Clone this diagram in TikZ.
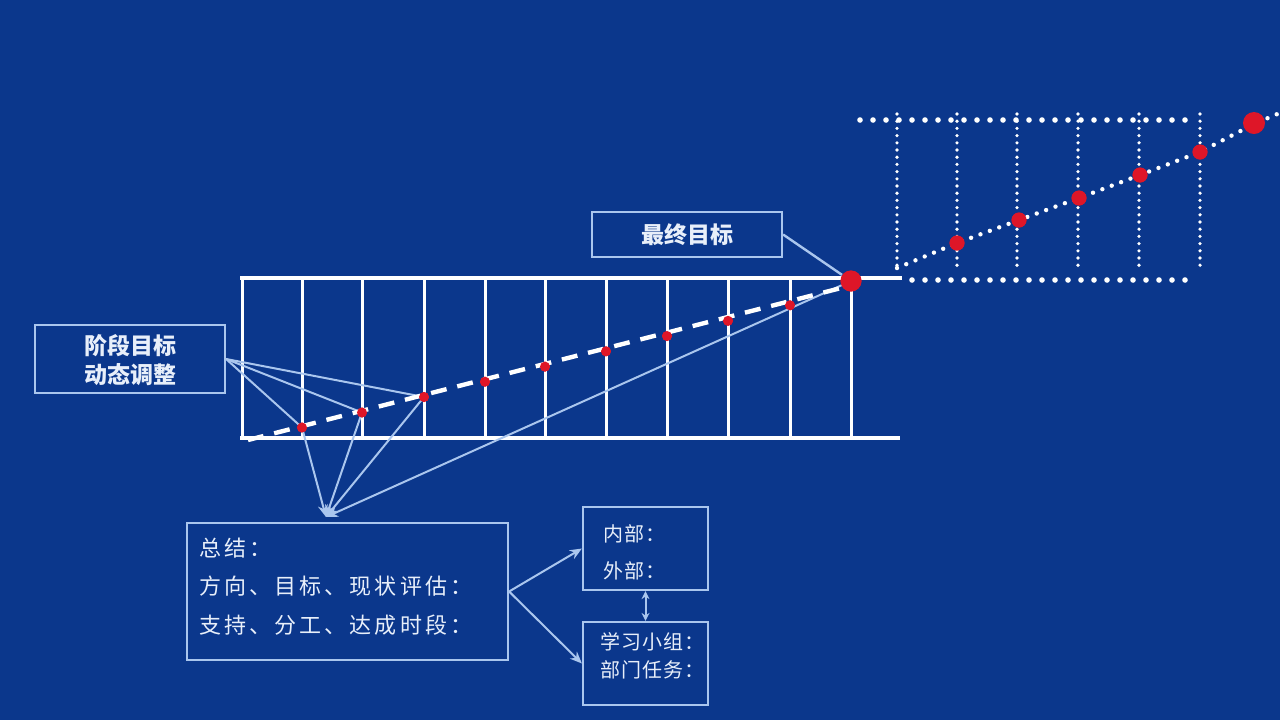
\documentclass[tikz,border=0pt]{standalone}
\usepackage{fontspec}
\newfontfamily\cjk{Noto Sans CJK SC}
\newfontfamily\cjkls{Noto Sans CJK SC}[LetterSpace=14]
\newfontfamily\cjkss{Noto Sans CJK SC}[LetterSpace=5]
\usetikzlibrary{arrows.meta}
\definecolor{bg}{RGB}{11,55,140}
\definecolor{lb}{RGB}{170,198,238}
\definecolor{dotred}{RGB}{222,22,40}
\definecolor{txt}{RGB}{232,239,250}
\begin{document}
\begin{tikzpicture}[x=0.5pt,y=-0.5pt,
  rail/.style={white,line width=2.4pt},
  gridline/.style={white,line width=1.5pt},
  thinline/.style={lb,line width=1pt},
  arr/.style={thinline,-{Stealth[length=6pt,width=5pt]}},
  dbl/.style={thinline,{Stealth[length=4pt,width=4pt]}-{Stealth[length=4pt,width=4pt]}},
  dashline/.style={white,line width=2.2pt,dash pattern=on 8pt off 5.5pt},
  hdots/.style={white,line width=2.8pt,line cap=round,dash pattern=on 0pt off 6.5pt},
  vdots/.style={white,line width=1.8pt,line cap=round,dash pattern=on 0pt off 3.6pt},
  ddots/.style={white,line width=2.2pt,line cap=round,dash pattern=on 0pt off 5pt},
  rdot/.style={circle,fill=dotred,inner sep=0pt,minimum size=5pt},
  rdotm/.style={circle,fill=dotred,inner sep=0pt,minimum size=7.5pt},
  rdotb/.style={circle,fill=dotred,inner sep=0pt,minimum size=10.5pt},
  lbox/.style={draw=lb,line width=1.1pt,inner sep=0pt},
  boldtxt/.style={text=txt,font=\cjk\bfseries\fontsize{11.5}{14.5}\selectfont,align=center},
  sumtxt/.style={text=txt,font=\cjkls\fontsize{11}{13}\selectfont,anchor=west,inner sep=0pt},
  smalltxt/.style={text=txt,font=\cjkss\fontsize{10}{12}\selectfont,anchor=west,inner sep=0pt}
]
\useasboundingbox (0,0) rectangle (1280,720);
\fill[bg] (0,0) rectangle (1280,720);

% ---- main grid ----
\coordinate (tl) at (240,278); \coordinate (tr) at (902,278);
\coordinate (bl) at (240,438); \coordinate (br) at (900,438);
\foreach \x in {242,302,362,424,485,545,606,667,728,790,851}
  \draw[gridline] (\x,278) -- (\x,438);
\draw[rail] (tl) -- (tr);
\draw[rail] (bl) -- (br);

% ---- top-right dotted grid ----
\foreach \x in {897,957,1017,1078,1139,1200}
  \draw[vdots] (\x,114) -- (\x,270);
\coordinate (ht1) at (860,120); \coordinate (ht2) at (1188,120);
\coordinate (hb1) at (912,280); \coordinate (hb2) at (1188,280);
\draw[hdots] (ht1) -- (ht2);
\draw[hdots] (hb1) -- (hb2);

% ---- red dots on main grid ----
\node[rdot] (d1) at (302,427.5) {};
\node[rdot] (d2) at (362,412.5) {};
\node[rdot] (d3) at (424,397) {};
\node[rdot] (d4) at (485,381.7) {};
\node[rdot] (d5) at (545,366.6) {};
\node[rdot] (d6) at (606,351.3) {};
\node[rdot] (d7) at (667,336) {};
\node[rdot] (d8) at (728,320.8) {};
\node[rdot] (d9) at (790,305.3) {};
\coordinate (ds) at (248,440);
\coordinate (de) at (845,287);

% ---- red dots top right ----
\coordinate (c0) at (897,268);
\node[rdotm] (r1) at (957,243) {};
\node[rdotm] (r2) at (1019,220) {};
\node[rdotm] (r3) at (1079,198) {};
\node[rdotm] (r4) at (1140,175) {};
\node[rdotm] (r5) at (1200,152) {};
\coordinate (cend) at (1282,112);

% ---- boxes ----
\node[lbox,minimum width=95pt,minimum height=34pt] (stage) at (130,359) {};
\node[boldtxt] (stagetxt) at (130,360) {阶段目标\\动态调整};
\node[lbox,minimum width=95pt,minimum height=22.5pt] (final) at (687,234.5) {};
\node[boldtxt] (finaltxt) at (687,235) {最终目标};

\node[lbox,minimum width=160.5pt,minimum height=68.5pt] (sb) at (347.5,591.5) {};
\node[sumtxt] (s1) at (199,548) {总结：};
\node[sumtxt] (s2) at (199,586) {方向、目标、现状评估：};
\node[sumtxt] (s3) at (199,625) {支持、分工、达成时段：};

\node[lbox,minimum width=62.5pt,minimum height=41.5pt] (tb) at (645.5,548.5) {};
\node[smalltxt] (t1) at (603,534) {内部：};
\node[smalltxt] (t2) at (603,571) {外部：};
\node[lbox,minimum width=62.5pt,minimum height=41.5pt] (bb) at (645.5,663.5) {};
\node[smalltxt] (b1) at (600,642) {学习小组：};
\node[smalltxt] (b2) at (600,670) {部门任务：};

\coordinate (tip) at (326,517);

% ---- connectors ----
\draw[thinline] (stage.east) -- (d1.center);
\draw[thinline] (stage.east) -- (d2.center);
\draw[thinline] (stage.east) -- (d3.center);
\draw[arr] (d1.center) -- (tip);
\draw[arr] (d2.center) -- (tip);
\draw[arr] (d3.center) -- (tip);
\node[rdotb] (bigA) at (851,281) {};
\draw[arr] (bigA.center) -- (tip);
\draw[dashline] (ds) -- (de);
\foreach \n in {d1,d2,d3,d4,d5,d6,d7,d8,d9}
  \node[rdot] at (\n) {};
\node[rdotb] at (bigA) {};
\draw[thinline,line width=1.2pt] (final.east) -- (bigA);

\draw[ddots] (c0) -- (r1.center) -- (r2.center) -- (r3.center) -- (r4.center) -- (r5.center) -- (1254,124) -- (cend);
\foreach \n in {r1,r2,r3,r4,r5}
  \node[rdotm] at (\n) {};
\node[circle,fill=dotred,inner sep=0pt,minimum size=11pt] (bigB) at (1254,123) {};

\draw[arr] (sb.east) -- (tb.west);
\draw[arr] (sb.east) -- (bb.west);
\draw[dbl] (tb.south) -- (bb.north);
\end{tikzpicture}
\end{document}
